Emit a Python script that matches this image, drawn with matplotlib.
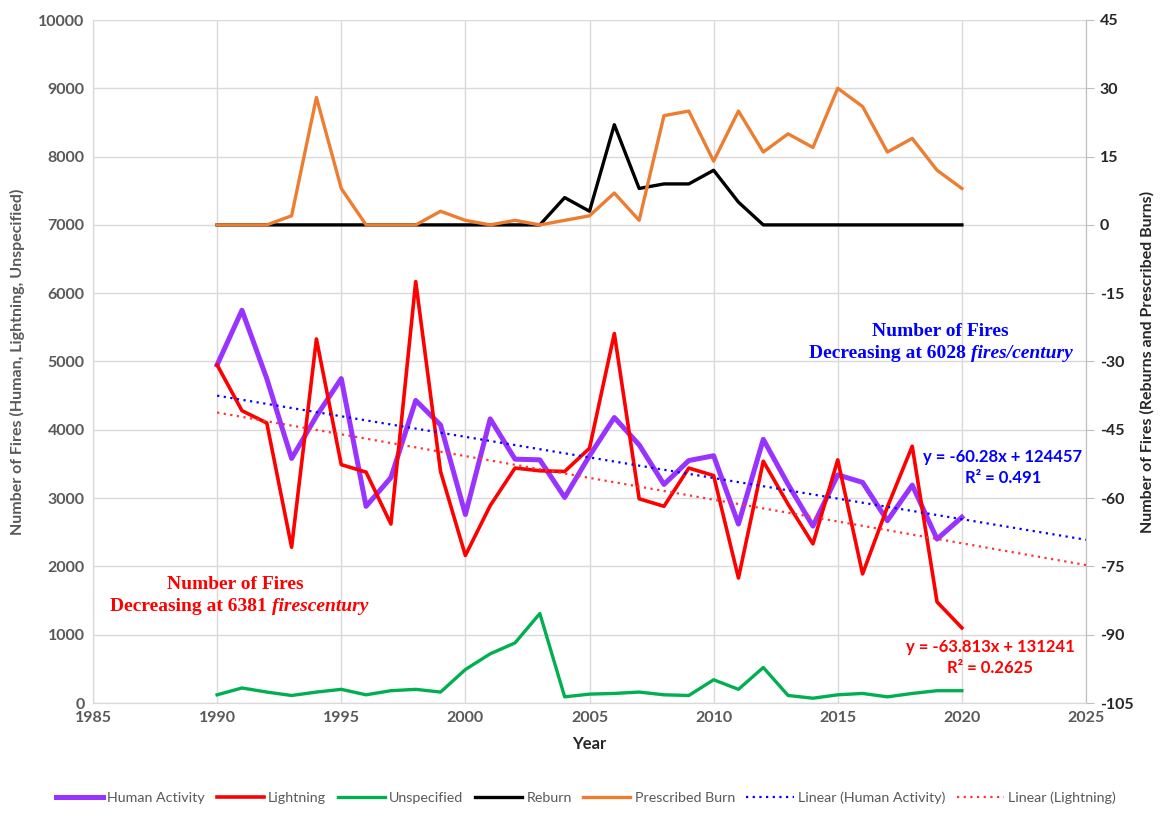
import matplotlib.pyplot as plt
import numpy as np

plt.rcParams['font.family'] = ['Lato', 'DejaVu Sans']
plt.rcParams['axes.unicode_minus'] = False

years = list(range(1990, 2021))

human = [4950, 5750, 4750, 3580, 4200, 4750, 2880, 3300, 4430, 4070,
         2760, 4160, 3570, 3560, 3010, 3620, 4180, 3780, 3200, 3550,
         3620, 2620, 3860, 3200, 2590, 3340, 3230, 2670, 3190, 2400, 2720]
lightning = [4950, 4280, 4100, 2280, 5330, 3490, 3380, 2620, 6170, 3390,
             2160, 2890, 3440, 3400, 3390, 3730, 5410, 2990, 2880, 3440,
             3330, 1830, 3540, 2910, 2330, 3560, 1890, 2870, 3760, 1480, 1100]
unspecified = [120, 220, 160, 110, 160, 200, 120, 180, 200, 160,
               490, 720, 880, 1310, 90, 130, 140, 160, 120, 110,
               340, 200, 520, 110, 70, 120, 140, 90, 140, 180, 180]
reburn = [0, 0, 0, 0, 0, 0, 0, 0, 0, 0,
          0, 0, 0, 0, 6, 3, 22, 8, 9, 9,
          12, 5, 0, 0, 0, 0, 0, 0, 0, 0, 0]
prescribed = [0, 0, 0, 2, 28, 8, 0, 0, 0, 3,
              1, 0, 1, 0, 1, 2, 7, 1, 24, 25,
              14, 25, 16, 20, 17, 30, 26, 16, 19, 12, 8]

# trendline coefficients as printed on the chart
trend_years = [1990, 2025]
human_slope, human_icpt = -60.28, 124457
light_slope, light_icpt = -63.813, 131241

gray = '#595959'

fig = plt.figure(figsize=(11.65, 8.22), dpi=100)
ax = fig.add_axes([93/1165, 1-703/822, (1086-93)/1165, (703-20)/822])
ax2 = ax.twinx()

ax.plot(years, human, color='#9933FF', lw=3.6, label='Human Activity', zorder=3)
ax.plot(years, lightning, color='#FF0000', lw=2.6, label='Lightning', zorder=3)
ax.plot(years, unspecified, color='#00B050', lw=2.4, label='Unspecified', zorder=3)
ty = np.array(trend_years)
ax.plot(ty, human_slope*ty + human_icpt, color='#0000FF', lw=1.6, ls=(0, (1, 2)),
        label='Linear (Human Activity)', zorder=4)
ax.plot(ty, light_slope*ty + light_icpt, color='#FF3333', lw=1.6, ls=(0, (1, 2)),
        label='Linear (Lightning)', zorder=4)

ax2.plot(years, reburn, color='black', lw=2.4, label='Reburn')
ax2.plot(years, prescribed, color='#ED7D31', lw=2.4, label='Prescribed Burn')

ax.set_xlim(1985, 2025)
ax.set_ylim(0, 10000)
ax2.set_ylim(-105, 45)
ax.set_xticks(range(1985, 2026, 5))
ax.set_yticks(range(0, 10001, 1000))
ax2.set_yticks(range(-105, 46, 15))
ax.grid(True, color='#D9D9D9', lw=1.0)
ax.set_axisbelow(True)

for a in (ax, ax2):
    for s in a.spines.values():
        s.set_color('#D9D9D9')
    a.spines['top'].set_visible(False)
    a.tick_params(labelsize=11.5, colors=gray, length=0, pad=6)
    for lab in a.get_xticklabels() + a.get_yticklabels():
        lab.set_fontweight('bold')
ax2.spines['right'].set_color('#BFBFBF')
ax2.tick_params(axis='y', length=6, color='#BFBFBF', direction='out', pad=4)
for lab in ax2.get_yticklabels():
    lab.set_color('#262626')

ax.set_xlabel('Year', fontsize=12, fontweight='bold', color='#262626', labelpad=8)
ax.set_ylabel('Number of Fires (Human, Lightning, Unspecified)', fontsize=11.5,
              fontweight='bold', color=gray, labelpad=10)
ax2.set_ylabel('Number of Fires (Reburns and Prescribed Burns)', fontsize=11.5,
               fontweight='bold', color='#262626', labelpad=5)

# annotations
serif = ['Liberation Serif', 'DejaVu Serif']
fig.text(235/1165, 1-584/822, 'Number of Fires', color='#FF0000', fontsize=14,
         fontweight='bold', family=serif, ha='center', va='center')
fig.text(272/1165, 1-606/822, 'Decreasing at 6381 ', color='#FF0000', fontsize=14,
         fontweight='bold', family=serif, ha='right', va='center')
fig.text(272/1165, 1-606/822, 'firescentury', color='#FF0000', fontsize=14,
         fontweight='bold', style='italic', family=serif, ha='left', va='center')

fig.text(940/1165, 1-331/822, 'Number of Fires', color='#0000FF', fontsize=14,
         fontweight='bold', family=serif, ha='center', va='center')
fig.text(971/1165, 1-353/822, 'Decreasing at 6028 ', color='#0000FF', fontsize=14,
         fontweight='bold', family=serif, ha='right', va='center')
fig.text(971/1165, 1-353/822, 'fires/century', color='#0000FF', fontsize=14,
         fontweight='bold', style='italic', family=serif, ha='left', va='center')

fig.text(1003/1165, 1-457/822, 'y = -60.28x + 124457', color='#0000FF', fontsize=12,
         fontweight='bold', ha='center', va='center')
fig.text(1003/1165, 1-478/822, 'R² = 0.491', color='#0000FF', fontsize=12,
         fontweight='bold', ha='center', va='center')
fig.text(990/1165, 1-647/822, 'y = -63.813x + 131241', color='#FF0000', fontsize=12,
         fontweight='bold', ha='center', va='center')
fig.text(990/1165, 1-668/822, 'R² = 0.2625', color='#FF0000', fontsize=12,
         fontweight='bold', ha='center', va='center')

h1, l1 = ax.get_legend_handles_labels()
h2, l2 = ax2.get_legend_handles_labels()
handles = h1[:3] + h2 + h1[3:]
labels = l1[:3] + l2 + l1[3:]
leg = fig.legend(handles, labels, loc='center', bbox_to_anchor=(586/1165, 1-798/822),
                 ncol=7, frameon=False, fontsize=10.3, handlelength=3.3,
                 columnspacing=0.8, handletextpad=0.3)
for t in leg.get_texts():
    t.set_color(gray)

fig.savefig('out.png', dpi=100)
